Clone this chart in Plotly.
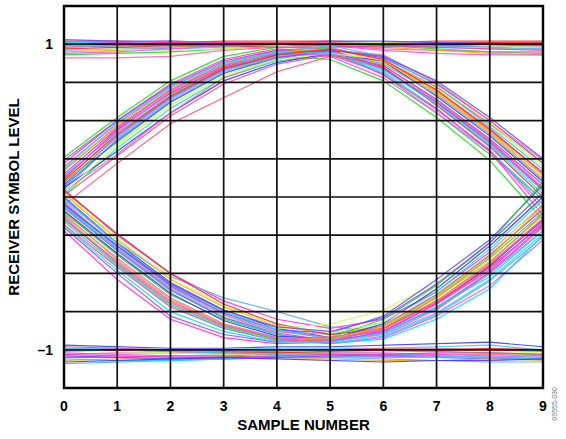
import plotly.graph_objects as go

SAMPLES = [0, 1, 2, 3, 4, 5, 6, 7, 8, 9]
X_TICKS = [0, 1, 2, 3, 4, 5, 6, 7, 8, 9]
X_TICK_TEXT = ["0", "1", "2", "3", "4", "5", "6", "7", "8", "9"]
Y_TICKS = [1, -1]
Y_TICK_TEXT = ["1", "–1"]
Y_GRID = [-1.25, -1.0, -0.75, -0.5, -0.25, 0.0, 0.25, 0.5, 0.75, 1.0, 1.25]

# upper arcs (symbol +1 between transitions)
upper_arcs = [
    [0.26, 0.52, 0.76, 0.92, 0.98, 0.97, 0.80, 0.55, 0.28, -0.02],
    [0.20, 0.48, 0.72, 0.88, 0.96, 0.98, 0.90, 0.70, 0.45, 0.15],
    [0.15, 0.45, 0.70, 0.87, 0.95, 0.96, 0.86, 0.64, 0.38, 0.08],
    [0.10, 0.42, 0.66, 0.84, 0.93, 0.95, 0.88, 0.68, 0.42, 0.12],
    [0.05, 0.38, 0.63, 0.82, 0.92, 0.94, 0.84, 0.62, 0.35, 0.04],
    [0.00, 0.35, 0.60, 0.80, 0.90, 0.93, 0.87, 0.71, 0.47, 0.20],
    [0.18, 0.46, 0.70, 0.86, 0.94, 0.92, 0.78, 0.55, 0.30, -0.05],
    [0.08, 0.40, 0.65, 0.83, 0.93, 0.97, 0.91, 0.74, 0.50, 0.22],
    [0.02, 0.32, 0.58, 0.78, 0.89, 0.93, 0.82, 0.58, 0.30, -0.02],
    [-0.05, 0.22, 0.48, 0.65, 0.82, 0.92, 0.90, 0.72, 0.48, 0.22],
    [0.12, 0.44, 0.68, 0.85, 0.94, 0.96, 0.85, 0.60, 0.33, 0.00],
    [0.22, 0.50, 0.74, 0.90, 0.97, 0.95, 0.80, 0.58, 0.30, -0.12],
    [0.06, 0.30, 0.55, 0.76, 0.88, 0.94, 0.89, 0.66, 0.40, 0.10],
    [0.14, 0.42, 0.67, 0.84, 0.95, 0.99, 0.92, 0.73, 0.46, 0.18],
    [0.10, 0.36, 0.62, 0.81, 0.92, 0.90, 0.76, 0.52, 0.24, -0.15],
    [0.04, 0.28, 0.55, 0.78, 0.90, 0.96, 0.93, 0.75, 0.50, 0.24],
    [0.24, 0.50, 0.73, 0.89, 0.96, 0.96, 0.84, 0.62, 0.36, 0.05],
    [0.17, 0.47, 0.71, 0.87, 0.95, 0.97, 0.89, 0.69, 0.43, 0.14],
    [0.09, 0.39, 0.64, 0.83, 0.92, 0.95, 0.87, 0.67, 0.41, 0.11],
    [0.03, 0.34, 0.60, 0.79, 0.90, 0.94, 0.90, 0.73, 0.49, 0.21],
    [0.13, 0.43, 0.69, 0.86, 0.94, 0.93, 0.81, 0.57, 0.31, -0.08],
    [0.07, 0.37, 0.62, 0.81, 0.91, 0.96, 0.92, 0.76, 0.52, 0.25],
    [0.19, 0.49, 0.72, 0.88, 0.95, 0.94, 0.83, 0.61, 0.34, 0.02],
    [0.01, 0.27, 0.53, 0.74, 0.87, 0.93, 0.86, 0.63, 0.37, 0.06],
    [0.11, 0.41, 0.66, 0.84, 0.93, 0.97, 0.90, 0.70, 0.44, 0.16],
]

# lower arcs (symbol -1 between transitions)
lower_arcs = [
    [0.05, -0.25, -0.50, -0.68, -0.80, -0.86, -0.80, -0.62, -0.36, -0.05],
    [0.00, -0.30, -0.56, -0.74, -0.86, -0.92, -0.88, -0.70, -0.45, -0.15],
    [-0.05, -0.34, -0.60, -0.78, -0.88, -0.90, -0.82, -0.62, -0.34, -0.02],
    [-0.10, -0.38, -0.64, -0.80, -0.90, -0.94, -0.86, -0.66, -0.40, -0.10],
    [-0.15, -0.42, -0.68, -0.84, -0.93, -0.95, -0.90, -0.74, -0.50, -0.20],
    [-0.20, -0.50, -0.78, -0.90, -0.95, -0.93, -0.84, -0.64, -0.38, -0.08],
    [0.02, -0.28, -0.54, -0.72, -0.84, -0.90, -0.84, -0.66, -0.42, -0.12],
    [-0.02, -0.30, -0.52, -0.66, -0.75, -0.85, -0.88, -0.72, -0.50, -0.22],
    [-0.08, -0.36, -0.62, -0.78, -0.86, -0.83, -0.74, -0.56, -0.32, 0.00],
    [-0.12, -0.40, -0.66, -0.83, -0.92, -0.96, -0.92, -0.78, -0.58, -0.28],
    [-0.04, -0.32, -0.58, -0.76, -0.87, -0.89, -0.78, -0.54, -0.28, 0.08],
    [-0.06, -0.34, -0.60, -0.79, -0.90, -0.96, -0.93, -0.80, -0.60, -0.25],
    [-0.18, -0.46, -0.72, -0.86, -0.94, -0.94, -0.86, -0.68, -0.44, -0.14],
    [0.04, -0.24, -0.50, -0.70, -0.83, -0.90, -0.86, -0.69, -0.46, -0.18],
    [-0.22, -0.54, -0.80, -0.92, -0.96, -0.95, -0.88, -0.70, -0.48, -0.16],
    [-0.09, -0.37, -0.63, -0.81, -0.91, -0.93, -0.83, -0.60, -0.32, 0.00],
    [-0.01, -0.31, -0.57, -0.75, -0.87, -0.93, -0.90, -0.76, -0.54, -0.24],
    [-0.14, -0.44, -0.70, -0.85, -0.93, -0.92, -0.80, -0.58, -0.30, 0.10],
    [-0.03, -0.33, -0.59, -0.77, -0.88, -0.92, -0.86, -0.68, -0.43, -0.11],
    [-0.07, -0.35, -0.61, -0.79, -0.89, -0.94, -0.89, -0.73, -0.49, -0.19],
    [-0.11, -0.41, -0.67, -0.83, -0.92, -0.93, -0.85, -0.65, -0.39, -0.06],
    [-0.16, -0.45, -0.71, -0.86, -0.94, -0.96, -0.91, -0.77, -0.55, -0.26],
    [0.03, -0.27, -0.53, -0.71, -0.84, -0.89, -0.82, -0.63, -0.37, -0.04],
    [-0.13, -0.43, -0.69, -0.84, -0.92, -0.94, -0.87, -0.70, -0.47, -0.17],
    [-0.05, -0.32, -0.57, -0.74, -0.85, -0.88, -0.79, -0.57, -0.30, 0.03],
    [-0.19, -0.48, -0.75, -0.88, -0.95, -0.95, -0.89, -0.72, -0.52, -0.22],
]

# steady +1 symbols
high_flat = [
    [1.02, 1.02, 1.01, 1.02, 1.02, 1.02, 1.01, 1.02, 1.02, 1.02],
    [1.00, 1.00, 1.01, 1.00, 0.99, 1.00, 1.00, 1.01, 1.00, 1.00],
    [0.98, 0.99, 0.99, 1.00, 1.00, 0.99, 0.99, 0.98, 0.99, 0.99],
    [0.96, 0.97, 0.98, 0.99, 1.00, 1.00, 0.99, 0.98, 0.97, 0.97],
    [0.93, 0.94, 0.95, 0.97, 0.99, 1.00, 0.99, 0.97, 0.95, 0.94],
    [0.91, 0.91, 0.92, 0.96, 0.98, 0.99, 0.97, 0.96, 0.95, 0.95],
    [1.01, 1.00, 0.99, 0.99, 1.00, 1.01, 1.01, 1.00, 0.99, 0.98],
    [0.95, 0.96, 0.98, 1.00, 1.01, 1.00, 0.98, 0.96, 0.94, 0.93],
    [0.99, 0.98, 0.97, 0.98, 0.99, 1.00, 1.00, 0.99, 0.98, 0.97],
    [0.97, 0.97, 0.96, 0.97, 0.99, 1.01, 1.01, 1.00, 0.99, 0.98],
    [0.94, 0.95, 0.97, 0.99, 1.00, 0.99, 0.96, 0.94, 0.93, 0.93],
    [1.03, 1.02, 1.02, 1.01, 1.01, 1.02, 1.02, 1.01, 1.01, 1.00],
    [1.01, 1.01, 1.00, 1.00, 1.01, 1.00, 0.99, 0.99, 1.00, 1.01],
    [0.99, 0.99, 1.00, 1.01, 1.01, 1.01, 1.00, 0.98, 0.97, 0.96],
    [0.97, 0.98, 0.99, 0.99, 0.98, 0.98, 0.99, 1.00, 1.01, 1.01],
    [1.00, 1.01, 1.02, 1.01, 1.00, 0.99, 0.98, 0.99, 1.00, 0.99],
]

# steady -1 symbols
low_flat = [
    [-0.97, -0.98, -0.99, -0.99, -0.98, -0.98, -0.97, -0.96, -0.95, -0.98],
    [-0.99, -0.99, -1.00, -1.00, -0.99, -0.99, -0.99, -0.98, -0.97, -1.00],
    [-1.01, -1.00, -1.00, -1.01, -1.02, -1.02, -1.01, -1.01, -1.02, -1.03],
    [-1.03, -1.02, -1.02, -1.03, -1.03, -1.04, -1.04, -1.03, -1.03, -1.04],
    [-1.05, -1.05, -1.04, -1.04, -1.05, -1.05, -1.04, -1.05, -1.06, -1.06],
    [-1.07, -1.06, -1.06, -1.05, -1.05, -1.06, -1.07, -1.07, -1.06, -1.07],
    [-1.09, -1.08, -1.07, -1.06, -1.05, -1.05, -1.06, -1.07, -1.08, -1.08],
    [-1.00, -1.01, -1.02, -1.03, -1.03, -1.02, -1.01, -1.00, -1.01, -1.02],
    [-1.02, -1.03, -1.04, -1.04, -1.03, -1.02, -1.02, -1.03, -1.04, -1.05],
    [-1.04, -1.05, -1.06, -1.06, -1.05, -1.04, -1.03, -1.04, -1.05, -1.06],
    [-1.06, -1.07, -1.07, -1.06, -1.04, -1.03, -1.03, -1.04, -1.05, -1.06],
    [-0.98, -0.99, -1.00, -1.01, -1.01, -1.00, -0.99, -0.99, -1.00, -1.01],
    [-1.00, -1.00, -1.01, -1.02, -1.02, -1.01, -1.00, -1.00, -0.99, -1.00],
    [-1.03, -1.04, -1.05, -1.05, -1.04, -1.03, -1.03, -1.02, -1.02, -1.03],
    [-1.08, -1.07, -1.06, -1.05, -1.06, -1.07, -1.08, -1.07, -1.07, -1.06],
    [-0.99, -1.00, -1.01, -1.02, -1.03, -1.04, -1.05, -1.05, -1.04, -1.04],
]

PALETTE = ["#ff2a2a", "#ff33cc", "#3a3aff", "#33ccff", "#22dd22", "#ff66aa",
           "#aa44ff", "#ffaa00", "#66aaff", "#ccff66", "#ee55ff", "#6f4fff",
           "#00e5ee", "#ff4f7f"]

fig = go.Figure()
k = 0
for group in (high_flat, low_flat, upper_arcs, lower_arcs):
    for ys in group:
        fig.add_trace(go.Scatter(
            x=SAMPLES, y=ys, mode="lines",
            line=dict(color=PALETTE[k % len(PALETTE)], width=1.2),
            opacity=0.9, showlegend=False, hoverinfo="skip"))
        k += 1

# grid lines drawn above the traces
for xv in X_TICKS:
    fig.add_shape(type="line", xref="x", yref="paper", x0=xv, x1=xv, y0=0, y1=1,
                  line=dict(color="#111", width=1.7), layer="above")
for yv in Y_GRID:
    fig.add_shape(type="line", xref="paper", yref="y", x0=0, x1=1, y0=yv, y1=yv,
                  line=dict(color="#111", width=1.7), layer="above")
fig.add_shape(type="rect", xref="paper", yref="paper", x0=0, x1=1, y0=0, y1=1,
              line=dict(color="#000", width=2.4), layer="above")

FONT = "Liberation Sans, Arial, sans-serif"
fig.update_layout(
    width=566, height=439,
    margin=dict(l=64, r=23, t=6, b=51),
    paper_bgcolor="white", plot_bgcolor="white",
    font=dict(family=FONT, color="black"),
    xaxis=dict(range=[0, 9], tickvals=X_TICKS, ticktext=X_TICK_TEXT,
               showgrid=False, zeroline=False, showline=False,
               ticks="", ticklabelstandoff=8,
               tickfont=dict(size=14, family=FONT, weight="bold"),
               title=dict(text="<b>SAMPLE NUMBER</b>", font=dict(size=15), standoff=6)),
    yaxis=dict(range=[-1.25, 1.25], tickvals=Y_TICKS, ticktext=Y_TICK_TEXT,
               showgrid=False, zeroline=False, showline=False,
               ticks="", ticklabelstandoff=10,
               tickfont=dict(size=14, family=FONT, weight="bold"),
               title=dict(text="<b>RECEIVER SYMBOL LEVEL</b>", font=dict(size=15), standoff=14)),
)
fig.add_annotation(text="09555-030", xref="paper", yref="paper", x=1.035, y=-0.09,
                   showarrow=False, textangle=-90, font=dict(size=7, color="#777"))

fig.write_html("out.html", config={"displayModeBar": False},
               post_script="document.body.style.margin='0';")
